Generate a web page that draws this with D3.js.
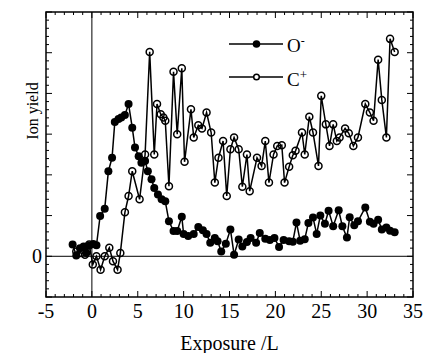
<!DOCTYPE html>
<html>
<head>
<meta charset="utf-8">
<script src="https://cdn.jsdelivr.net/npm/d3@7"></script>
<style>
  html, body { margin: 0; padding: 0; background: #fff; }
  svg { display: block; font-family: "Liberation Serif", "Times New Roman", serif; }
</style>
</head>
<body>
<svg id="chart" width="425" height="353"></svg>
<script>
// O- (filled circles)
const oMinusX = [-2.1, -1.7, -1.3, -0.9, -0.6, -0.3, 0.15, 0.5, 0.9, 1.4, 1.8, 2.2, 2.5, 2.9, 3.2, 3.6, 4.0, 4.4, 4.7, 5.1, 5.4, 5.8, 6.1, 6.5, 6.8, 7.2, 7.6, 8.0, 8.4, 8.9, 9.3, 9.8, 10.0, 10.5, 11.1, 11.6, 12.1, 12.5, 12.9, 13.4, 13.7, 14.1, 14.6, 15.1, 15.5, 16.0, 16.4, 16.9, 17.3, 17.9, 18.3, 18.9, 19.4, 19.9, 20.4, 20.9, 21.5, 21.9, 22.3, 22.7, 23.2, 23.6, 24.1, 24.5, 24.9, 25.4, 25.8, 26.3, 26.9, 27.3, 27.8, 28.1, 28.6, 29.0, 29.8, 30.3, 30.7, 31.2, 31.6, 32.1, 32.5, 33.0]
const oMinusY = [0.29, 0.02, 0.20, 0.24, 0.08, 0.26, 0.30, 0.27, 0.99, 1.17, 2.09, 2.42, 3.30, 3.37, 3.41, 3.47, 3.74, 3.16, 2.67, 2.46, 2.30, 2.34, 2.09, 1.89, 1.68, 1.52, 1.40, 1.35, 0.86, 0.62, 0.62, 0.97, 0.55, 0.50, 0.55, 0.72, 0.64, 0.55, 0.33, 0.45, 0.37, 0.12, 0.31, 0.66, 0.04, 0.41, 0.24, 0.35, 0.45, 0.33, 0.57, 0.43, 0.40, 0.45, 0.23, 0.40, 0.37, 0.36, 0.83, 0.38, 0.42, 0.82, 0.95, 0.55, 1.00, 0.80, 1.12, 0.74, 1.13, 0.74, 0.46, 0.96, 0.76, 0.86, 1.20, 0.85, 0.80, 0.90, 0.66, 0.71, 0.63, 0.59]

// C+ (open circles)
const cPlusX = [-1.7, -1.2, -0.75, -0.3, 0.1, 0.5, 0.95, 1.4, 1.9, 2.3, 2.8, 3.1, 3.6, 4.0, 4.4, 5.2, 5.8, 6.3, 6.8, 7.1, 7.5, 7.8, 8.0, 8.4, 8.9, 9.3, 9.8, 10.1, 10.8, 11.1, 11.6, 12.0, 12.5, 13.0, 13.4, 13.8, 14.3, 14.7, 15.1, 15.5, 16.0, 16.4, 16.9, 17.2, 18.0, 18.5, 18.9, 19.3, 19.8, 20.2, 20.7, 21.0, 21.5, 21.9, 22.2, 22.9, 23.2, 23.7, 24.1, 24.7, 25.0, 25.5, 25.9, 26.3, 26.7, 27.0, 27.6, 28.0, 28.5, 29.0, 29.8, 30.3, 30.7, 31.2, 31.6, 32.1, 32.5, 33.0]
const cPlusY = [0.12, 0.08, 0.04, 0.29, -0.20, 0.0, -0.33, 0.0, 0.21, -0.12, -0.33, 0.08, 1.08, 1.48, 2.09, 1.40, 2.50, 5.02, 2.50, 3.74, 3.49, 3.41, 3.33, 1.72, 4.53, 3.00, 4.62, 2.32, 3.61, 2.92, 3.22, 3.14, 3.53, 3.04, 1.81, 2.42, 2.83, 1.48, 2.63, 2.92, 2.63, 1.71, 2.50, 1.60, 2.42, 2.22, 2.83, 1.81, 2.50, 2.71, 2.73, 1.81, 2.20, 2.48, 2.59, 3.04, 2.50, 3.43, 3.04, 2.22, 3.94, 3.24, 2.71, 3.24, 2.83, 2.92, 3.14, 3.02, 2.71, 2.92, 3.74, 3.53, 3.33, 4.83, 3.84, 2.92, 5.34, 5.02]

const xTickLabels = [-5, 0, 5, 10, 15, 20, 25, 30, 35]
const yTickLabels = [0]

const plotLeft = 46, plotRight = 413, plotTop = 12, plotBottom = 297

const svg = d3.select("#chart")

const x = d3.scaleLinear().domain([-5, 35]).range([plotLeft, plotRight])
const y = d3.scaleLinear().domain([-1, 6]).range([plotBottom, plotTop])

const minorX = d3.range(-5, 35.01, 1)
const majorX = d3.range(-5, 35.01, 5)
const minorY = d3.range(-1, 6.001, 0.2).map(v => Math.round(v * 10) / 10)
const majorY = d3.range(-1, 6.01, 1)

const ticks = svg.append("g").attr("stroke", "#000").attr("stroke-width", 1)

// inward ticks on all four sides
const tickLen = (v, majors) => majors.some(m => Math.abs(m - v) < 1e-6) ? 6 : 3
minorX.forEach(v => {
    const len = tickLen(v, majorX)
    ticks.append("line").attr("x1", x(v)).attr("x2", x(v)).attr("y1", plotBottom).attr("y2", plotBottom - len)
    ticks.append("line").attr("x1", x(v)).attr("x2", x(v)).attr("y1", plotTop).attr("y2", plotTop + len)
})
minorY.forEach(v => {
    const len = tickLen(v, majorY)
    ticks.append("line").attr("y1", y(v)).attr("y2", y(v)).attr("x1", plotLeft).attr("x2", plotLeft + len)
    ticks.append("line").attr("y1", y(v)).attr("y2", y(v)).attr("x1", plotRight).attr("x2", plotRight - len)
})

// zero lines
svg.append("line").attr("x1", x(0)).attr("x2", x(0)).attr("y1", plotTop).attr("y2", plotBottom)
    .attr("stroke", "#000").attr("stroke-width", 1)
svg.append("line").attr("x1", plotLeft).attr("x2", plotRight).attr("y1", y(0)).attr("y2", y(0))
    .attr("stroke", "#000").attr("stroke-width", 1)

// frame
svg.append("rect").attr("x", plotLeft).attr("y", plotTop)
    .attr("width", plotRight - plotLeft).attr("height", plotBottom - plotTop)
    .attr("fill", "none").attr("stroke", "#000").attr("stroke-width", 1.5)

// tick labels
svg.append("g").selectAll("text").data(xTickLabels).join("text")
    .attr("x", d => x(d)).attr("y", 318)
    .attr("text-anchor", "middle").attr("font-size", 20)
    .text(d => d)

svg.append("g").selectAll("text").data(yTickLabels).join("text")
    .attr("x", 42).attr("y", y(0) + 7)
    .attr("text-anchor", "end").attr("font-size", 20)
    .text(d => d)

// axis titles
svg.append("text").attr("x", 229.5).attr("y", 350).attr("text-anchor", "middle")
    .attr("font-size", 20).text("Exposure /L")
svg.append("text").attr("transform", "translate(38,111) rotate(-90)").attr("text-anchor", "middle")
    .attr("font-size", 16).text("Ion yield")

// series
const line = d3.line().x(d => x(d[0])).y(d => y(d[1]))
const oData = oMinusX.map((v, i) => [v, oMinusY[i]])
const cData = cPlusX.map((v, i) => [v, cPlusY[i]])

svg.append("path").datum(cData).attr("d", line)
    .attr("fill", "none").attr("stroke", "#000").attr("stroke-width", 1.5)
svg.append("g").selectAll("circle").data(cData).join("circle")
    .attr("cx", d => x(d[0])).attr("cy", d => y(d[1])).attr("r", 3.5)
    .attr("fill", "none").attr("stroke", "#000").attr("stroke-width", 1.5)

svg.append("path").datum(oData).attr("d", line)
    .attr("fill", "none").attr("stroke", "#000").attr("stroke-width", 1.5)
svg.append("g").selectAll("circle").data(oData).join("circle")
    .attr("cx", d => x(d[0])).attr("cy", d => y(d[1])).attr("r", 4)
    .attr("fill", "#000")

// legend
const legend = svg.append("g")
legend.append("line").attr("x1", 229).attr("x2", 283).attr("y1", 44).attr("y2", 44)
    .attr("stroke", "#000").attr("stroke-width", 1.5)
legend.append("circle").attr("cx", 256.5).attr("cy", 44).attr("r", 3.8).attr("fill", "#000")
legend.append("line").attr("x1", 229).attr("x2", 283).attr("y1", 77).attr("y2", 77)
    .attr("stroke", "#000").attr("stroke-width", 1.5)
legend.append("circle").attr("cx", 256.5).attr("cy", 77).attr("r", 2.8)
    .attr("fill", "#fff").attr("stroke", "#000").attr("stroke-width", 1.5)

const t1 = legend.append("text").attr("x", 287).attr("y", 52).attr("font-size", 19)
t1.append("tspan").text("O")
t1.append("tspan").attr("dy", -7).attr("font-size", 12).text("-")
const t2 = legend.append("text").attr("x", 287).attr("y", 86).attr("font-size", 19)
t2.append("tspan").text("C")
t2.append("tspan").attr("dy", -7).attr("font-size", 13).text("+")
</script>
</body>
</html>
